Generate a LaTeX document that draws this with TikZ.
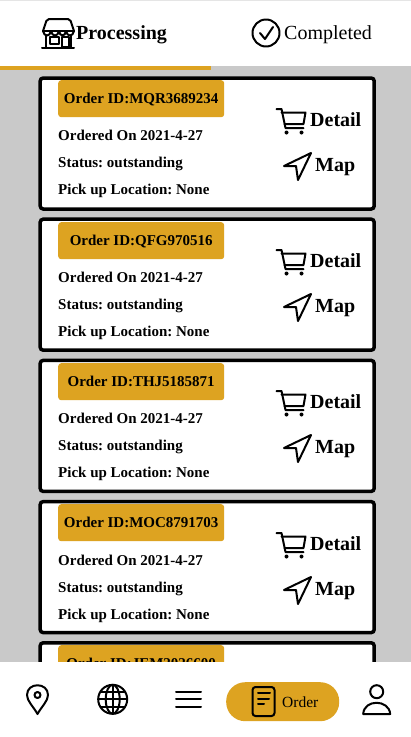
\documentclass[tikz,border=0pt]{standalone}
\usepackage{fontspec}
\setmainfont{Liberation Serif}
\definecolor{gold}{HTML}{DDA321}
\definecolor{pagegray}{HTML}{C9C9C9}
\tikzstyle{card} = [draw=black,line width=3.5pt,fill=white,rounded corners=3pt,outer sep=0pt,minimum width=334pt,minimum height=131pt,anchor=north west,inner sep=0pt]
\tikzstyle{idbox} = [fill=gold,rounded corners=3pt,minimum width=166pt,minimum height=37pt,anchor=north west,inner sep=0pt,text height=11pt,text depth=2pt,font=\fontsize{15}{15}\selectfont\bfseries]
\tikzstyle{info} = [anchor=base west,inner sep=0pt,font=\fontsize{15}{15}\selectfont\bfseries]
\tikzstyle{action} = [anchor=base west,inner sep=0pt,font=\fontsize{20}{20}\selectfont\bfseries]
\tikzstyle{tab} = [anchor=base west,inner sep=0pt,font=\fontsize{20}{20}\selectfont]
\tikzstyle{icon} = [line width=2pt,line join=round,line cap=round]
% icons, origin at their top left corner
\newcommand{\carticon}[2]{%
  \begin{scope}[shift={(#1,#2)},icon]
    \draw (0,0) -- (5,0) -- (9,19) -- (27,19);
    \draw (5,3.5) -- (29,3.5) -- (27,15) -- (8,15);
    \fill (10,23.5) circle (2pt) (25,23.5) circle (2pt);
  \end{scope}}
\newcommand{\mapicon}[2]{%
  \begin{scope}[shift={(#1,#2)},icon]
    \draw (0,13) -- (27,0) -- (14,27) -- (12,13) -- cycle;
  \end{scope}}
\begin{document}
\frenchspacing
\begin{tikzpicture}[x=1pt,y=-1pt]
  \useasboundingbox (0,0) rectangle (411,737);
  \fill [pagegray] (0,66) rectangle (411,662);
  \fill [black!10] (0,0) rectangle (411,1);
  \fill [gold] (0,66) rectangle (211,70);

  % first order
  \node (c1) [card] at (40.2,78) {};
  \node (id1) [idbox] at (58,80) {Order ID:MQR3689234};
  \node (on1) [info] at (58,140) {Ordered On 2021-4-27};
  \node (st1) [info] at (58,167) {Status: outstanding};
  \node (loc1) [info] at (58,194) {Pick up Location: None};
  \carticon{276.5}{109}
  \node (det1) [action] at (310,126) {Detail};
  \mapicon{284}{153}
  \node (map1) [action] at (315,171) {Map};

  % second order
  \node (c2) [card] at (40.2,219.2) {};
  \node (id2) [idbox] at (58,222) {Order ID:QFG970516};
  \node (on2) [info] at (58,282) {Ordered On 2021-4-27};
  \node (st2) [info] at (58,309) {Status: outstanding};
  \node (loc2) [info] at (58,336) {Pick up Location: None};
  \carticon{276.5}{250}
  \node (det2) [action] at (310,267) {Detail};
  \mapicon{284}{294}
  \node (map2) [action] at (315,312) {Map};

  % third order
  \node (c3) [card] at (40.2,360.4) {};
  \node (id3) [idbox] at (58,363) {Order ID:THJ5185871};
  \node (on3) [info] at (58,423) {Ordered On 2021-4-27};
  \node (st3) [info] at (58,450) {Status: outstanding};
  \node (loc3) [info] at (58,477) {Pick up Location: None};
  \carticon{276.5}{391}
  \node (det3) [action] at (310,408) {Detail};
  \mapicon{284}{435}
  \node (map3) [action] at (315,453) {Map};

  % fourth order
  \node (c4) [card] at (40.2,501.6) {};
  \node (id4) [idbox] at (58,504) {Order ID:MOC8791703};
  \node (on4) [info] at (58,565) {Ordered On 2021-4-27};
  \node (st4) [info] at (58,592) {Status: outstanding};
  \node (loc4) [info] at (58,619) {Pick up Location: None};
  \carticon{276.5}{533}
  \node (det4) [action] at (310,550) {Detail};
  \mapicon{284}{577}
  \node (map4) [action] at (315,595) {Map};

  % fifth order, cut by the bar
  \node (c5) [card] at (40.2,642.8) {};
  \node (id5) [idbox] at (58,645) {Order ID:JEM2026600};

  % bottom bar
  \fill [white] (0,662) rectangle (411,737);
  \node (ordertab) [fill=gold,rounded corners=19pt,minimum width=113pt,minimum height=39pt,inner sep=0pt,anchor=north west] at (226,682) {};
  \node (ordertxt) [inner sep=0pt,anchor=base west,font=\fontsize{15.5}{15.5}\selectfont] at (282,707) {Order};

  % header tabs
  \node (proc) [tab,font=\fontsize{20}{20}\selectfont\bfseries] at (76,39.5) {Processing};
  \node (comp) [tab] at (284,39.5) {Completed};

  % store
  \begin{scope}[icon]
    \draw [rounded corners=2pt] (43,31) -- (47,19) -- (70,19) -- (74,31);
    \draw (43,31) .. controls (44,37) and (50,37) .. (51,31) .. controls (52,37) and (58,37) .. (59,31) .. controls (60,37) and (65,37) .. (66,31) .. controls (67,37) and (73,37) .. (74,31);
    \draw (43,31) -- (74,31);
    \draw (46,35) -- (46,47) (71,35) -- (71,47) (42,48) -- (74,48);
    \draw (50,37) rectangle (59,44) (62,37) rectangle (69,47);
    % check
    \draw (266,33) circle (13.5pt);
    \draw (260,33) -- (265,39) -- (273,27);
    % pin
    \draw (37.5,714) .. controls (33,706) and (27,701) .. (27,695) .. controls (27,682) and (48,682) .. (48,695) .. controls (48,701) and (42,706) .. (37.5,714) -- cycle;
    \draw (37.5,695) circle (3pt);
    % globe
    \draw (112.7,699.3) circle (14.5pt);
    \draw (112.7,699.3) ellipse (7pt and 14.5pt);
    \draw (112.7,685) -- (112.7,713.6) (98.2,699.3) -- (127.2,699.3);
    \draw (101,691.5) -- (124.5,691.5) (101,707) -- (124.5,707);
    % menu
    \draw (176,691.7) -- (201,691.7) (176,699) -- (201,699) (176,706.7) -- (201,706.7);
    % order sheet
    \draw [rounded corners=3pt] (252.5,687) rectangle (274.5,716);
    \draw (258,693) -- (270,693) (258,699) -- (269,699) (258,704) -- (264,704);
    % user
    \draw (376.7,691.7) circle (6.5pt);
    \draw (363.2,714) .. controls (364,699) and (389,699) .. (390.2,714) -- cycle;
  \end{scope}
\end{tikzpicture}
\end{document}
